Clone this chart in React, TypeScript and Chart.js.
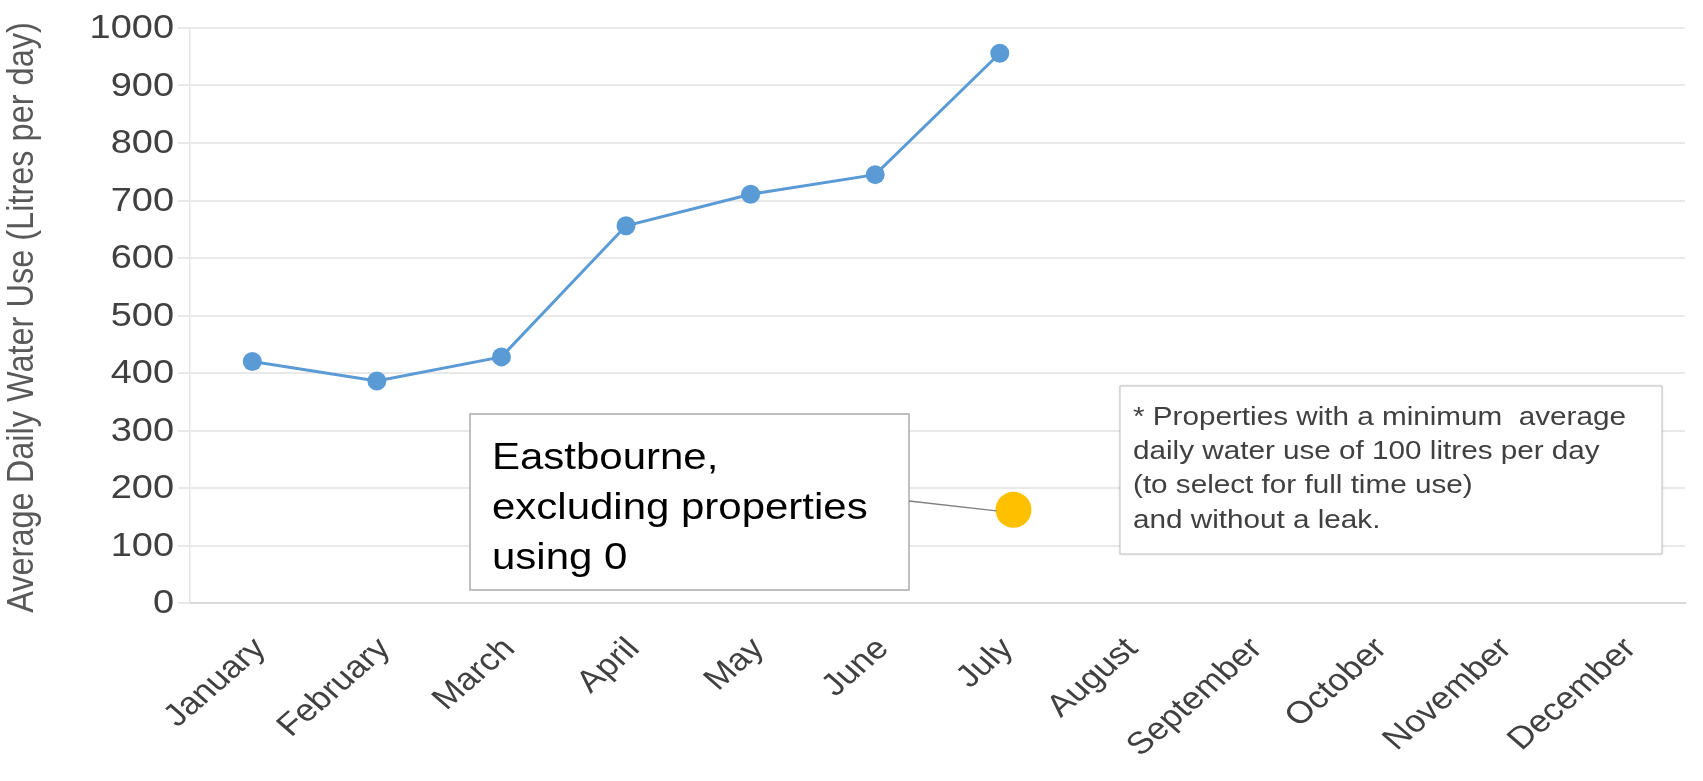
import React, { useEffect, useRef } from "react";
import { Chart, registerables } from "chart.js";

Chart.register(...registerables);

const months = [
  "January", "February", "March", "April", "May", "June",
  "July", "August", "September", "October", "November", "December",
];
const waterUse: (number | null)[] = [420, 386, 428, 656, 711, 745, 956, null, null, null, null, null];
// the separate marker sits slightly right of the July category
const markerPoint = [{ x: 6.11, y: 162 }];
const yTicks = [0, 100, 200, 300, 400, 500, 600, 700, 800, 900, 1000];
const yTitle = "Average Daily Water Use (Litres per day)";
const calloutLines = ["Eastbourne,", "excluding properties", "using 0"];
const noteLines = [
  "* Properties with a minimum  average",
  "daily water use of 100 litres per day",
  "(to select for full time use)",
  "and without a leak.",
];

const FONT = "Arial, 'Liberation Sans', sans-serif";
const SX = 1.15; // horizontal stretch of the reference's text

function stretchedText(
  ctx: CanvasRenderingContext2D,
  text: string,
  x: number,
  y: number,
  opts: { size: number; color: string; align?: CanvasTextAlign; baseline?: CanvasTextBaseline; rot?: number }
) {
  ctx.save();
  ctx.translate(x, y);
  ctx.scale(SX, 1);
  if (opts.rot) ctx.rotate(opts.rot);
  ctx.font = `${opts.size}px ${FONT}`;
  ctx.fillStyle = opts.color;
  ctx.textAlign = opts.align || "left";
  ctx.textBaseline = opts.baseline || "alphabetic";
  ctx.fillText(text, 0, 0);
  ctx.restore();
}

const textPlugin = {
  id: "axisText",
  afterDraw(chart: any) {
    const { ctx, chartArea: ca } = chart;
    const ys = chart.scales.y;
    const xs = chart.scales.x;
    yTicks.forEach((v) => {
      stretchedText(ctx, String(v), ca.left - 16, ys.getPixelForValue(v) + 1, {
        size: 33, color: "#404040", align: "right", baseline: "middle",
      });
    });
    stretchedText(ctx, yTitle, 23, (ca.top + ca.bottom) / 2 + 2, {
      size: 32.5, color: "#595959", align: "center", baseline: "middle", rot: -Math.PI / 2,
    });
    months.forEach((m, i) => {
      const x = xs.getPixelForTick(i);
      stretchedText(ctx, m, x + 8, ca.bottom + 41, {
        size: 31, color: "#404040", align: "right", baseline: "middle", rot: -Math.PI / 4,
      });
    });
  },
};

const annotationPlugin = {
  id: "annotations",
  afterDatasetsDraw(chart: any) {
    const { ctx, chartArea: ca } = chart;
    ctx.save();
    const bx = ca.left + 280, by = ca.top + 386, bw = 439, bh = 176;
    ctx.fillStyle = "#ffffff";
    ctx.fillRect(bx, by, bw, bh);
    ctx.strokeStyle = "#a6a6a6";
    ctx.lineWidth = 1.4;
    ctx.strokeRect(bx, by, bw, bh);
    calloutLines.forEach((t, i) =>
      stretchedText(ctx, t, bx + 22, by + 55 + i * 50, { size: 36.5, color: "#000000" })
    );
    const meta = chart.getDatasetMeta(1);
    const pt = meta.data[0];
    if (pt) {
      ctx.beginPath();
      ctx.strokeStyle = "#808080";
      ctx.lineWidth = 1.4;
      ctx.moveTo(bx + bw, by + 87);
      ctx.lineTo(pt.x - 17, pt.y + 1);
      ctx.stroke();
    }
    const nx = ca.left + 930, ny = ca.top + 358, nw = 542, nh = 168;
    ctx.shadowColor = "rgba(0,0,0,0.18)";
    ctx.shadowBlur = 3;
    ctx.fillStyle = "#ffffff";
    ctx.fillRect(nx, ny, nw, nh);
    ctx.shadowColor = "transparent";
    ctx.strokeStyle = "#bfbfbf";
    ctx.lineWidth = 1;
    ctx.strokeRect(nx, ny, nw, nh);
    noteLines.forEach((t, i) =>
      stretchedText(ctx, t, nx + 13, ny + 39 + i * 34.2, { size: 25.8, color: "#404040" })
    );
    ctx.restore();
  },
};

export default function App() {
  const ref = useRef<HTMLCanvasElement>(null);
  useEffect(() => {
    if (!ref.current) return;
    const chart = new Chart(ref.current, {
      type: "line",
      data: {
        labels: months,
        datasets: [
          {
            data: waterUse,
            borderColor: "#5b9bd5",
            backgroundColor: "#5b9bd5",
            borderWidth: 3,
            pointRadius: 9.5,
            pointHoverRadius: 9.5,
            pointBorderWidth: 0,
            tension: 0,
          },
          {
            data: markerPoint as any,
            xAxisID: "x2",
            borderColor: "#ffc000",
            backgroundColor: "#ffc000",
            showLine: false,
            pointRadius: 18,
            pointHoverRadius: 18,
            pointBorderWidth: 0,
          },
        ],
      },
      options: {
        animation: false,
        responsive: true,
        maintainAspectRatio: false,
        layout: { padding: { top: 28, right: 3, left: 0, bottom: 0 } },
        plugins: { legend: { display: false }, tooltip: { enabled: false } },
        scales: {
          x: {
            offset: true,
            grid: { display: false, drawTicks: false },
            border: { display: true, color: "#d9d9d9", width: 2 },
            ticks: { display: false, autoSkip: false },
            afterFit(scale: any) {
              scale.height = 178;
            },
          },
          x2: {
            type: "linear",
            display: false,
            min: -0.5,
            max: 11.5,
          },
          y: {
            min: 0,
            max: 1000,
            afterBuildTicks(scale: any) {
              scale.ticks = yTicks.map((v) => ({ value: v }));
            },
            grid: { color: "#e9e9e9", lineWidth: 2, tickLength: 12, drawTicks: true },
            border: { display: true, color: "#e6e6e6", width: 1.5 },
            ticks: { display: false },
            afterFit(scale: any) {
              scale.width = 190;
            },
          },
        },
      },
      plugins: [annotationPlugin, textPlugin],
    });
    return () => chart.destroy();
  }, []);
  return (
    <div style={{ position: "fixed", left: 0, top: 0, width: 1703, height: 781, background: "#fff" }}>
      <canvas ref={ref} />
    </div>
  );
}
